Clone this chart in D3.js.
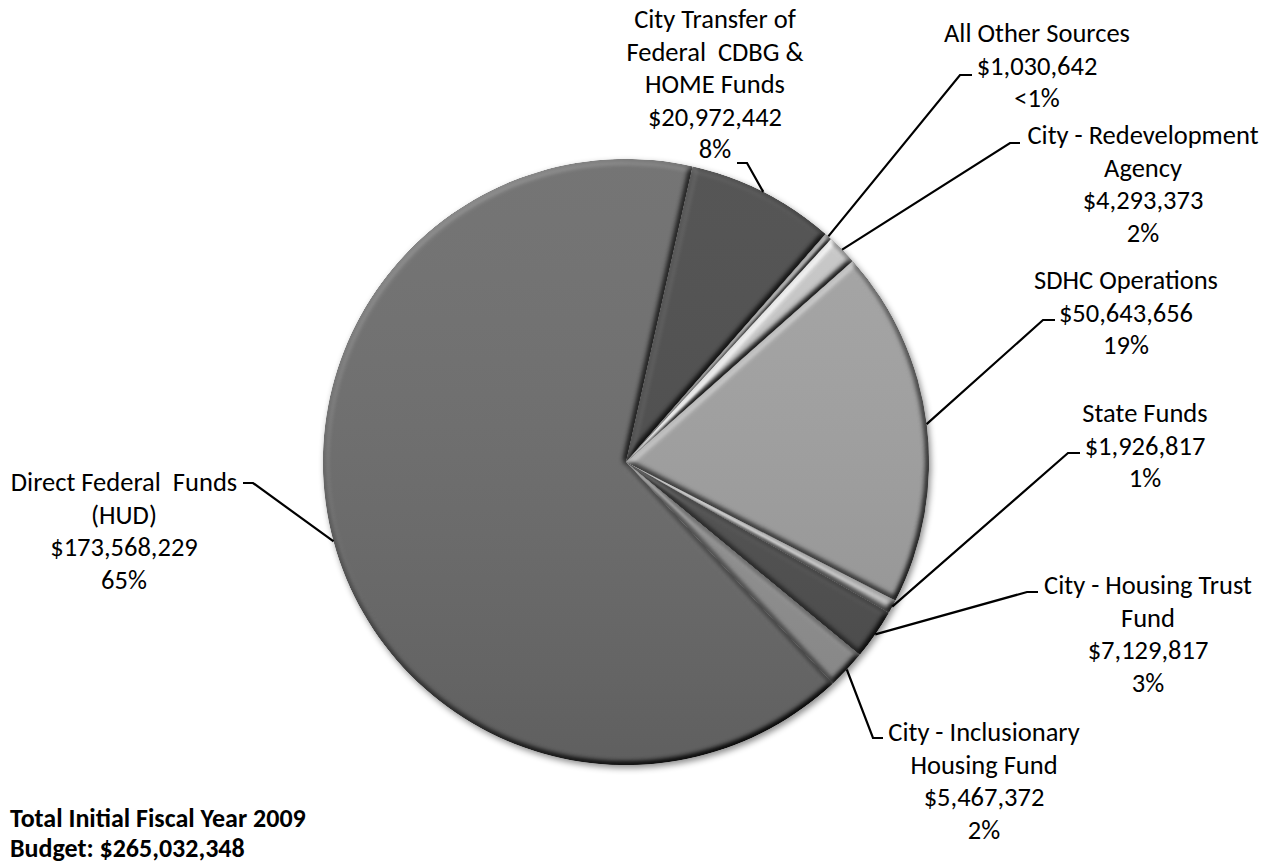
<!DOCTYPE html>
<html>
<head>
<meta charset="utf-8">
<script src="https://cdn.jsdelivr.net/npm/d3@7"></script>
<style>
  body { margin: 0; background: #fff; }
  svg { display: block; }
  text { font-family: Carlito, Calibri, Lato, sans-serif; fill: #000; white-space: pre; }
</style>
</head>
<body>
<div id="chart"></div>
<script>
// Funding sources, clockwise from the top
var names = [
    ["City Transfer of", "Federal  CDBG &", "HOME Funds"],
    ["All Other Sources"],
    ["City - Redevelopment", "Agency"],
    ["SDHC Operations"],
    ["State Funds"],
    ["City - Housing Trust", "Fund"],
    ["City - Inclusionary", "Housing Fund"],
    ["Direct Federal  Funds", "(HUD)"]
];
var amounts = [20972442, 1030642, 4293373, 50643656, 1926817, 7129817, 5467372, 173568229];
var shades = ["#4b4b4b", "#8c8c8c", "#c6c6c6", "#a1a1a1", "#c2c2c2", "#505050", "#949494", "#6c6c6c"];
var totalText = ["Total Initial Fiscal Year 2009", "Budget: $265,032,348"];

// label placement: text centre x, first line centre y, elbow of the leader, end of the leader
var labelLayout = [
    { cx: 715, y: 19, ex: 747, ey: 163, hx: 737 },
    { cx: 1037, y: 33, ex: 960, ey: 75, hx: 972 },
    { cx: 1143, y: 135, ex: 1010, ey: 143, hx: 1020 },
    { cx: 1126, y: 280, ex: 1043, ey: 320, hx: 1055 },
    { cx: 1145, y: 413, ex: 1068, ey: 453, hx: 1080 },
    { cx: 1148, y: 585, ex: 1027, ey: 592, hx: 1038 },
    { cx: 984, y: 732, ex: 873, ey: 738, hx: 883 },
    { cx: 124, y: 482, ex: 253, ey: 483, hx: 243 }
];

const width = 1273, height = 865;
const cx = 626, cy = 462, radius = 303;
const fontSize = 26.5, lineH = 32.5;

const total = d3.sum(amounts);
const money = d3.format("$,");
const pct = v => {
    const p = Math.round(v / total * 100);
    return p < 1 ? "<1%" : p + "%";
};

const svg = d3.select("#chart")
    .append("svg")
    .attr("width", width)
    .attr("height", height);

const defs = svg.append("defs");

// soft round bevel on every slice (coordinates are local to the pie group)
const pad = radius + 30;
const bevel = defs.append("filter")
    .attr("id", "bevel")
    .attr("filterUnits", "userSpaceOnUse")
    .attr("x", -pad).attr("y", -pad).attr("width", 2 * pad).attr("height", 2 * pad)
    .attr("color-interpolation-filters", "sRGB");
bevel.append("feGaussianBlur")
    .attr("in", "SourceAlpha").attr("stdDeviation", 3).attr("result", "blur");
bevel.append("feDiffuseLighting")
    .attr("in", "blur").attr("surfaceScale", 5).attr("diffuseConstant", 1)
    .attr("lighting-color", "#fff").attr("result", "light")
    .append("feDistantLight").attr("azimuth", 235).attr("elevation", 55);
bevel.append("feComposite")
    .attr("in", "SourceGraphic").attr("in2", "light")
    .attr("operator", "arithmetic")
    .attr("k1", 1.22).attr("k2", 0).attr("k3", 0).attr("k4", 0)
    .attr("result", "lit");
bevel.append("feComposite")
    .attr("in", "lit").attr("in2", "SourceAlpha").attr("operator", "in");

const shadow = defs.append("filter")
    .attr("id", "shadow")
    .attr("filterUnits", "userSpaceOnUse")
    .attr("x", -pad).attr("y", -pad).attr("width", 2 * pad).attr("height", 2 * pad)
    .attr("color-interpolation-filters", "sRGB");
shadow.append("feDropShadow")
    .attr("dx", 2).attr("dy", 3).attr("stdDeviation", 3)
    .attr("flood-color", "#000").attr("flood-opacity", 0.45);

const shade = defs.append("linearGradient")
    .attr("id", "shade")
    .attr("x1", 0).attr("y1", 0).attr("x2", 0).attr("y2", 1);
shade.append("stop").attr("offset", "0%").attr("stop-color", "#fff").attr("stop-opacity", 0.06);
shade.append("stop").attr("offset", "100%").attr("stop-color", "#000").attr("stop-opacity", 0.12);

const startAngle = 12.7 * Math.PI / 180;
const pie = d3.pie()
    .sort(null)
    .startAngle(startAngle)
    .endAngle(startAngle + 2 * Math.PI);
const arcs = pie(amounts);

const arc = d3.arc().innerRadius(0).outerRadius(radius);

const g = svg.append("g")
    .attr("transform", `translate(${cx},${cy})`);

const pieG = g.append("g").attr("filter", "url(#shadow)");

pieG.selectAll("path.slice")
    .data(arcs)
    .enter().append("path")
    .attr("class", "slice")
    .attr("d", arc)
    .attr("fill", (d, i) => shades[i])
    .attr("filter", "url(#bevel)");

pieG.append("circle")
    .attr("r", radius)
    .attr("fill", "url(#shade)");

// leader lines from the rim at each slice's middle angle
const rim = d3.arc().innerRadius(radius).outerRadius(radius);
svg.append("g")
    .selectAll("path")
    .data(arcs)
    .enter().append("path")
    .attr("fill", "none")
    .attr("stroke", "#000")
    .attr("stroke-width", 2.2)
    .attr("d", (d, i) => {
        const p = rim.centroid(d);
        const L = labelLayout[i];
        return d3.line()([[cx + p[0], cy + p[1]], [L.ex, L.ey], [L.hx, L.ey]]);
    });

// labels
const labels = svg.append("g")
    .selectAll("text")
    .data(arcs)
    .enter().append("text")
    .attr("text-anchor", "middle")
    .style("font-size", fontSize + "px");

labels.each(function(d, i) {
    const L = labelLayout[i];
    const lines = names[i].concat([money(amounts[i]), pct(amounts[i])]);
    d3.select(this).selectAll("tspan")
        .data(lines)
        .enter().append("tspan")
        .attr("x", L.cx)
        .attr("y", (t, j) => L.y + j * lineH)
        .attr("dy", "0.35em")
        .text(t => t);
});

svg.append("text")
    .style("font-size", "26px")
    .style("font-weight", "bold")
    .selectAll("tspan")
    .data(totalText)
    .enter().append("tspan")
    .attr("x", 10)
    .attr("y", (t, j) => 818 + j * 30)
    .attr("dy", "0.35em")
    .text(t => t);
</script>
</body>
</html>
